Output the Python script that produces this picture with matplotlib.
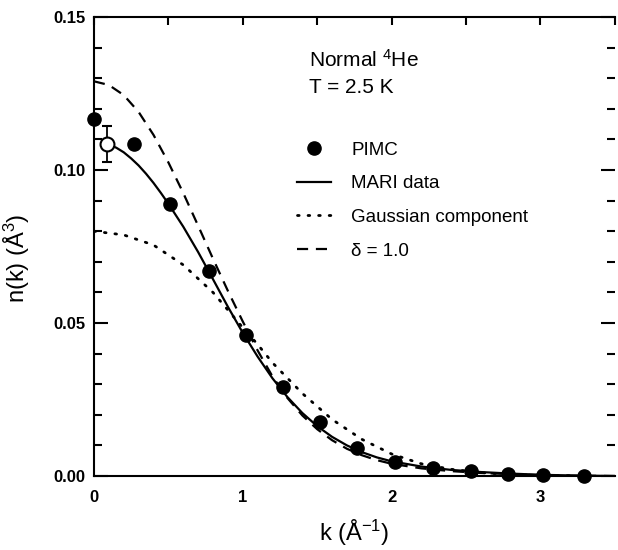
import matplotlib
matplotlib.use("Agg")
import matplotlib.pyplot as plt
from matplotlib.ticker import MultipleLocator

plt.rcParams['font.family'] = ['Liberation Sans', 'DejaVu Sans']
plt.rcParams['mathtext.default'] = 'regular'

# PIMC points
pimc_k = [0.0, 0.27, 0.51, 0.77, 1.02, 1.27, 1.52, 1.77, 2.02, 2.28, 2.53, 2.78, 3.02, 3.29]
pimc_n = [0.1167, 0.1085, 0.0889, 0.0670, 0.0460, 0.0292, 0.0175, 0.0092, 0.0047, 0.0027, 0.0017, 0.0008, 0.0004, 0.0001]

# MARI open point with error bar
mari0_k = [0.09]
mari0_n = [0.1085]
mari0_err = [0.006]

# MARI data curve
mari_k = [0.09, 0.15, 0.2, 0.25, 0.3, 0.35, 0.4, 0.45, 0.5, 0.6, 0.7, 0.8, 0.9, 1.0,
          1.1, 1.2, 1.3, 1.4, 1.5, 1.6, 1.7, 1.8, 1.9, 2.0, 2.2, 2.4, 2.6, 2.8, 3.0, 3.2, 3.5]
mari_n = [0.1085, 0.1073, 0.1058, 0.1038, 0.1015, 0.0988, 0.0958, 0.0925, 0.0890, 0.0815,
          0.0732, 0.0643, 0.0553, 0.0468, 0.0390, 0.0319, 0.0258, 0.0206, 0.0163, 0.0128,
          0.0100, 0.0078, 0.0061, 0.0048, 0.0031, 0.0020, 0.0013, 0.0008, 0.0004, 0.0002, 0.0000]

# delta = 1.0 curve
delta_k = [0.0, 0.1, 0.2, 0.3, 0.4, 0.5, 0.6, 0.7, 0.8, 0.9, 1.0, 1.1, 1.2, 1.3, 1.4, 1.5,
           1.6, 1.7, 1.8, 1.9, 2.0, 2.2, 2.4, 2.6, 2.8, 3.0, 3.2, 3.5]
delta_n = [0.1290, 0.1278, 0.1245, 0.1190, 0.1115, 0.1025, 0.0925, 0.0818, 0.0710, 0.0605,
           0.0505, 0.0410, 0.0325, 0.0255, 0.0198, 0.0153, 0.0117, 0.0089, 0.0068, 0.0052,
           0.0040, 0.0025, 0.0016, 0.0010, 0.0006, 0.0003, 0.0001, 0.0000]

# Gaussian component
gauss_k = [0.0, 0.2, 0.4, 0.6, 0.8, 1.0, 1.1, 1.2, 1.4, 1.6, 1.8, 2.0, 2.2, 2.4, 2.6, 2.8, 3.0, 3.2]
gauss_n = [0.0800, 0.0788, 0.0755, 0.0690, 0.0600, 0.0485, 0.0430, 0.0370, 0.0270, 0.0185,
           0.0120, 0.0072, 0.0040, 0.0022, 0.0011, 0.0005, 0.0002, 0.0001]

xticks = [0, 1, 2, 3]
yticks = [0.00, 0.05, 0.10, 0.15]
ytick_labels = ["0.00", "0.05", "0.10", "0.15"]

fig = plt.figure(figsize=(6.18, 5.5), dpi=100)
ax = fig.add_axes([0.152, 0.1345, 0.843, 0.8345])

ax.plot(mari_k, mari_n, color='black', lw=1.6, ls='-', label='MARI data', zorder=3)
ax.plot(gauss_k, gauss_n, color='black', lw=2.0, ls=(0, (0.6, 3.2)), dash_capstyle='round',
        label='Gaussian component', zorder=2)
ax.plot(delta_k, delta_n, color='black', lw=1.6, ls=(0, (5, 3.5)), label='δ = 1.0', zorder=2)
ax.plot(pimc_k, pimc_n, 'o', color='black', ms=9.5, ls='none', label='PIMC', zorder=4,
        clip_on=False)
ax.errorbar(mari0_k, mari0_n, yerr=mari0_err, fmt='o', mfc='white', mec='black', mew=1.5,
            ms=10, ecolor='black', elinewidth=1.3, capsize=3.5, capthick=1.3, zorder=5)

ax.set_xlim(0, 3.5)
ax.set_ylim(0, 0.15)
ax.set_xticks(xticks)
ax.xaxis.set_minor_locator(MultipleLocator(0.5))
ax.set_yticks(yticks)
ax.set_yticklabels(ytick_labels)
ax.yaxis.set_minor_locator(MultipleLocator(0.01))

for s in ['left', 'top', 'bottom']:
    ax.spines[s].set_linewidth(1.5)
ax.spines['right'].set_visible(False)

ax.tick_params(axis='x', which='both', bottom=False, top=True, direction='in', length=6,
               width=1.5, pad=10, labelsize=12, labelbottom=True, labeltop=False)
ax.tick_params(axis='y', which='major', left=True, right=True, direction='in', length=10,
               width=1.5, labelsize=12, pad=6)
ax.tick_params(axis='y', which='minor', left=True, right=True, direction='in', length=6,
               width=1.5)
for lab in ax.get_xticklabels() + ax.get_yticklabels():
    lab.set_fontweight('bold')

ax.set_xlabel('k (Å$^{-1}$)', fontsize=17, labelpad=9)
ax.set_ylabel('n(k) (Å$^{3}$)', fontsize=17, labelpad=10)
ax.yaxis.set_label_coords(-0.118, 0.475)

ax.text(0.413, 0.93, 'Normal $^{4}$He\nT = 2.5 K', transform=ax.transAxes, fontsize=15,
        va='top', ha='left', linespacing=1.45)

handles, labels = ax.get_legend_handles_labels()
order = [labels.index(l) for l in ['PIMC', 'MARI data', 'Gaussian component', 'δ = 1.0']]
leg = ax.legend([handles[i] for i in order], [labels[i] for i in order],
                loc='upper left', bbox_to_anchor=(0.375, 0.745), frameon=False,
                fontsize=13.5, handlelength=1.8, handletextpad=1.1, labelspacing=0.88,
                borderaxespad=0)

fig.savefig('out.png', dpi=100)
